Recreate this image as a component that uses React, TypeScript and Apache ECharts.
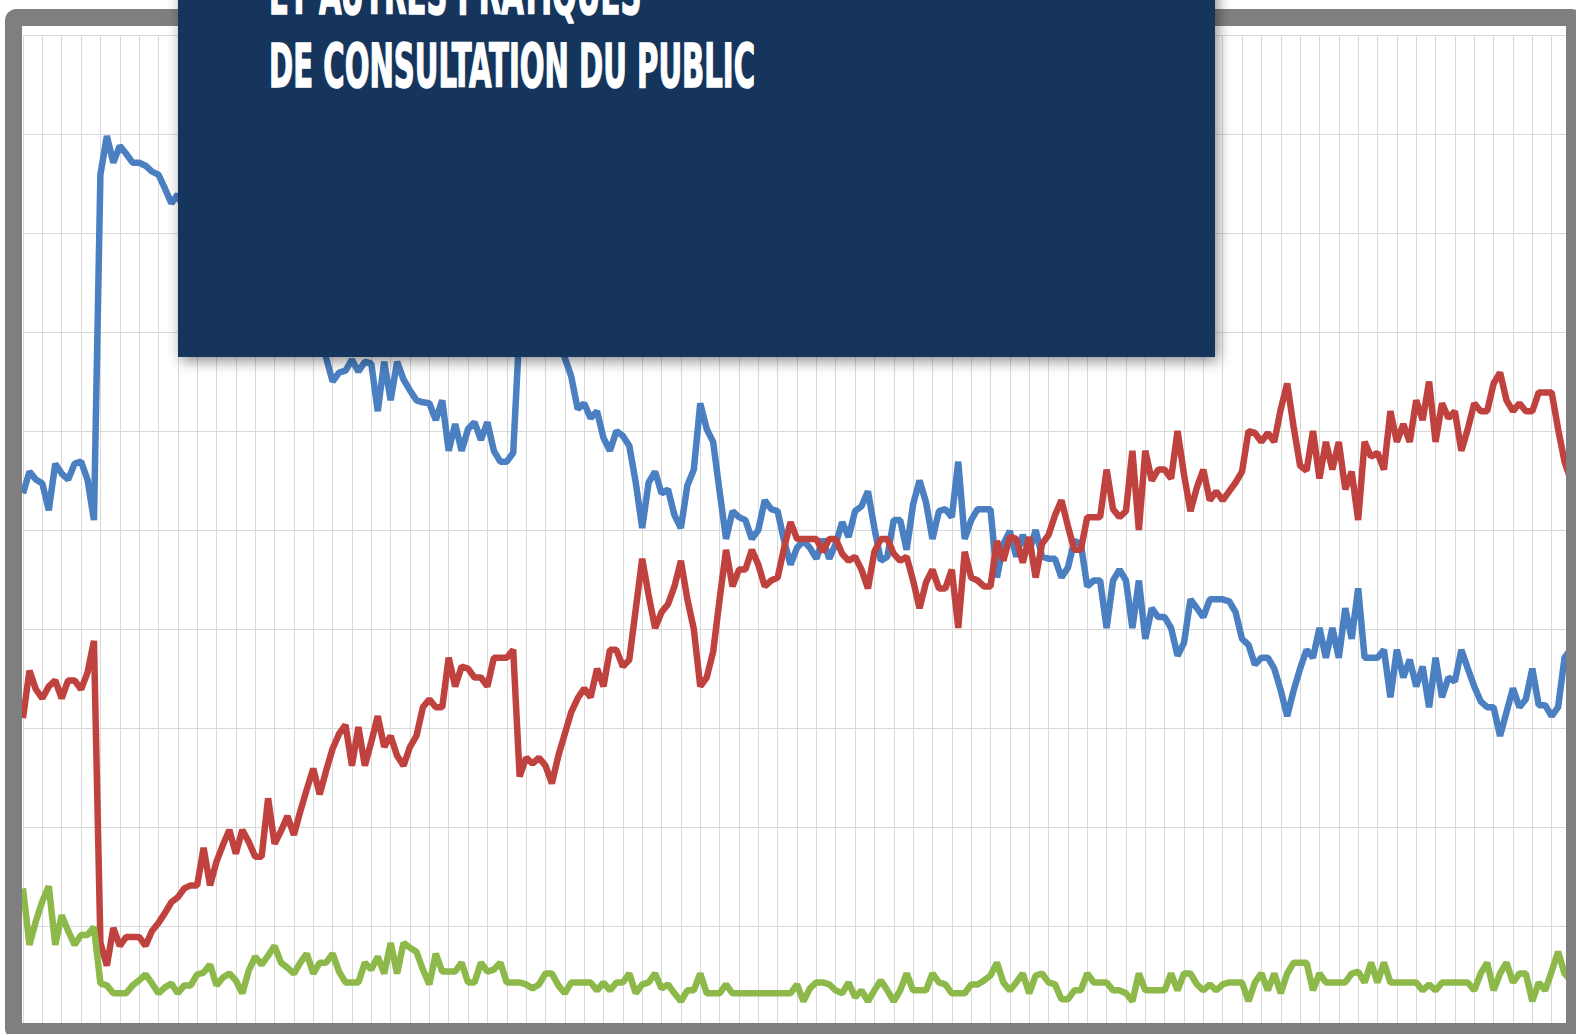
import React, { useEffect, useRef } from "react";
import * as echarts from "echarts";

// Monthly shares (%), index 0..240
const blueValues: number[] = [
  53.7, 55.9, 55.1, 54.7, 52.0, 56.7, 55.7, 55.1, 56.7, 56.9,
  55.1, 51.0, 85.9, 89.8, 87.1, 88.8, 88.0, 87.1, 87.1, 86.8,
  86.2, 85.9, 84.5, 83.0, 83.9, 82.2, 81.9, 80.8, 76.8, 79.8,
  79.5, 77.0, 75.1, 78.2, 77.1, 76.0, 76.1, 76.9, 70.1, 73.7,
  74.1, 73.1, 75.6, 72.1, 69.0, 68.9, 70.4, 67.4, 65.0, 65.9,
  66.1, 67.2, 66.0, 67.0, 66.8, 62.0, 67.0, 63.1, 67.0, 65.2,
  64.1, 63.1, 62.9, 62.8, 61.1, 63.1, 58.0, 60.7, 58.0, 60.2,
  60.9, 59.1, 60.9, 58.0, 56.9, 56.9, 57.8, 70.6, 68.9, 69.9,
  68.9, 68.6, 70.4, 68.8, 67.4, 65.5, 62.2, 62.8, 61.3, 62.0,
  59.3, 58.0, 60.0, 59.5, 58.5, 54.8, 50.2, 54.8, 55.9, 53.7,
  54.1, 51.5, 50.2, 54.5, 56.1, 62.8, 60.2, 58.9, 53.9, 49.1,
  51.9, 51.3, 51.0, 49.1, 50.0, 53.0, 52.1, 51.9, 48.9, 46.5,
  48.2, 48.9, 48.2, 47.1, 49.1, 47.1, 48.6, 50.8, 49.3, 51.9,
  52.4, 53.9, 50.2, 46.9, 47.3, 51.0, 51.0, 48.0, 52.6, 55.0,
  52.8, 49.1, 51.9, 52.1, 51.3, 56.9, 49.1, 51.0, 52.1, 52.1,
  52.1, 45.2, 48.6, 49.9, 47.3, 49.5, 47.8, 50.0, 47.3, 47.1,
  47.1, 45.2, 46.2, 48.9, 48.6, 44.3, 44.9, 44.9, 40.1, 44.9,
  46.0, 44.9, 40.1, 44.9, 39.0, 42.1, 41.2, 41.2, 40.1, 37.3,
  38.6, 43.0, 42.1, 41.2, 43.0, 43.0, 43.0, 42.8, 41.7, 39.0,
  38.4, 36.4, 37.1, 37.1, 36.0, 33.8, 31.2, 33.8, 36.0, 37.9,
  37.1, 40.1, 37.1, 40.1, 37.1, 42.1, 39.0, 44.1, 37.1, 37.1,
  37.1, 37.9, 33.1, 37.9, 35.1, 36.9, 34.2, 36.2, 32.1, 37.1,
  33.1, 35.1, 34.7, 37.9, 36.0, 34.2, 32.7, 32.1, 32.1, 29.2,
  31.6, 34.0, 32.1, 32.9, 36.0, 32.3, 32.3, 31.2, 32.1, 37.1,
  38.0,
];

const redValues: number[] = [
  31.0, 35.8, 33.9, 33.0, 34.2, 34.8, 33.0, 34.8, 34.8, 33.9,
  35.6, 38.8, 8.3, 6.0, 9.8, 8.0, 8.9, 8.9, 8.9, 8.0,
  9.5, 10.3, 11.3, 12.4, 12.9, 13.8, 14.1, 14.1, 17.9, 14.1,
  16.5, 18.2, 19.7, 17.3, 19.7, 18.5, 17.0, 17.0, 22.9, 18.3,
  19.6, 21.1, 19.2, 21.6, 23.8, 25.9, 23.3, 25.7, 27.9, 29.4,
  30.3, 26.2, 30.1, 26.2, 28.6, 31.2, 28.1, 29.2, 27.2, 26.2,
  28.1, 29.2, 32.1, 32.9, 32.1, 32.1, 37.1, 34.2, 36.2, 36.0,
  35.1, 35.1, 34.2, 37.1, 37.1, 37.1, 37.9, 25.1, 27.0, 26.4,
  27.0, 26.2, 24.4, 27.2, 29.4, 31.6, 33.0, 34.0, 33.1, 36.0,
  34.2, 37.9, 37.9, 36.2, 36.9, 42.0, 47.1, 43.4, 40.1, 41.7,
  42.5, 44.3, 46.9, 43.0, 40.0, 34.2, 35.1, 37.7, 43.0, 48.0,
  44.3, 46.0, 46.0, 48.0, 46.5, 44.3, 44.9, 45.2, 48.2, 50.8,
  49.1, 49.1, 49.1, 49.1, 47.8, 49.1, 49.1, 47.6, 46.9, 47.3,
  46.0, 44.1, 47.8, 49.1, 49.1, 47.6, 46.9, 47.3, 44.9, 42.1,
  44.7, 46.0, 44.1, 44.1, 46.0, 40.1, 47.8, 45.2, 44.9, 44.3,
  44.3, 48.9, 46.9, 49.3, 49.1, 46.7, 49.3, 45.2, 48.6, 49.5,
  51.5, 53.0, 50.4, 48.0, 48.0, 51.3, 51.3, 51.3, 56.1, 52.1,
  51.3, 51.9, 58.0, 50.0, 58.0, 55.0, 56.1, 56.1, 55.2, 60.0,
  55.6, 51.9, 54.3, 56.1, 53.0, 53.9, 53.0, 53.9, 54.8, 55.9,
  60.0, 59.8, 58.9, 59.8, 58.9, 62.2, 64.8, 60.4, 56.5, 56.0,
  60.0, 55.2, 58.9, 56.1, 58.9, 54.1, 55.9, 51.0, 58.9, 57.4,
  57.8, 56.1, 62.0, 58.9, 60.7, 58.9, 63.1, 61.1, 65.0, 58.9,
  62.8, 61.3, 62.0, 58.0, 60.2, 62.8, 62.0, 62.0, 64.8, 65.9,
  63.1, 62.0, 62.8, 62.0, 62.0, 63.9, 63.9, 63.9, 60.2, 56.9,
  55.0,
];

const greenValues: number[] = [
  13.8, 8.1, 10.5, 12.5, 14.0, 8.1, 11.1, 9.5, 8.1, 9.1,
  9.1, 9.9, 4.2, 4.0, 3.2, 3.2, 3.2, 4.0, 4.5, 5.1,
  4.2, 3.2, 3.8, 4.2, 3.2, 4.0, 4.0, 5.1, 5.3, 6.1,
  4.0, 4.8, 5.2, 4.5, 3.2, 5.5, 6.9, 6.1, 7.0, 8.0,
  6.3, 5.8, 5.2, 6.3, 7.2, 5.2, 6.3, 6.3, 7.2, 5.4,
  4.3, 4.3, 4.3, 6.3, 5.6, 6.9, 5.2, 8.3, 5.2, 8.3,
  7.8, 7.4, 5.6, 4.1, 7.2, 5.4, 5.4, 5.4, 6.3, 4.3,
  4.3, 6.3, 5.4, 5.6, 6.3, 4.3, 4.3, 4.3, 4.1, 3.7,
  4.1, 5.2, 5.2, 4.0, 3.2, 4.3, 4.3, 4.3, 4.3, 3.5,
  4.3, 3.5, 4.3, 4.3, 5.2, 3.2, 4.1, 4.3, 5.2, 3.7,
  4.1, 3.2, 2.4, 3.5, 3.5, 5.2, 3.2, 3.2, 3.2, 4.1,
  3.2, 3.2, 3.2, 3.2, 3.2, 3.2, 3.2, 3.2, 3.2, 3.2,
  4.1, 2.4, 3.7, 4.3, 4.3, 4.1, 3.5, 3.2, 4.3, 2.8,
  3.5, 2.4, 3.5, 4.5, 3.5, 2.4, 3.5, 5.2, 3.5, 3.5,
  3.5, 5.2, 4.3, 4.1, 3.2, 3.2, 3.2, 4.1, 4.1, 4.5,
  5.0, 6.3, 4.3, 3.5, 4.3, 5.2, 3.2, 5.0, 5.2, 4.3,
  4.1, 2.6, 2.6, 3.5, 3.5, 5.2, 4.3, 4.3, 4.3, 3.5,
  3.5, 3.2, 2.4, 5.2, 3.5, 3.5, 3.5, 3.5, 5.2, 3.5,
  5.2, 5.2, 4.1, 3.5, 4.1, 3.5, 4.1, 4.3, 4.3, 4.3,
  2.4, 4.3, 5.2, 3.5, 5.2, 3.2, 5.2, 6.3, 6.3, 6.3,
  3.5, 5.2, 4.3, 4.3, 4.3, 4.3, 5.2, 5.4, 4.3, 6.3,
  4.3, 6.3, 4.3, 4.3, 4.3, 4.3, 4.3, 3.5, 4.1, 3.5,
  4.3, 4.3, 4.3, 4.3, 4.3, 3.5, 5.2, 6.3, 3.5, 5.2,
  6.3, 4.3, 5.2, 5.2, 2.4, 4.3, 3.5, 5.4, 7.4, 5.2,
  4.5,
];

const titleLines: string[] = ["ET AUTRES PRATIQUES", "DE CONSULTATION DU PUBLIC"];

const toPairs = (arr: number[]) => arr.map((v, i) => [i, v]);

export default function App() {
  const ref = useRef<HTMLDivElement>(null);

  useEffect(() => {
    if (!ref.current) return;
    const chart = echarts.init(ref.current, null, { renderer: "svg" });
    const gridColor = "#d9d9d9";
    const lineSeries = (name: string, data: number[], color: string) => ({
      name,
      type: "line",
      data: toPairs(data),
      showSymbol: false,
      symbol: "none",
      lineStyle: { color, width: 6.5 },
      itemStyle: { color },
      silent: true,
    });
    const titleText = (text: string, y: number) => ({
      type: "text",
      z: 120,
      silent: true,
      x: 269,
      y,
      scaleX: 0.54,
      scaleY: 1,
      style: {
        text,
        fill: "#ffffff",
        fontSize: 60,
        fontWeight: "bold",
        fontFamily: "'DejaVu Sans Condensed', 'DejaVu Sans', sans-serif",
        align: "left",
        verticalAlign: "top",
        stroke: "#ffffff",
        lineWidth: 1.5,
      },
    });
    chart.setOption({
      animation: false,
      backgroundColor: "#ffffff",
      grid: { left: 23, right: 5, top: 35, bottom: 9, containLabel: false },
      xAxis: {
        type: "value",
        min: 0,
        max: 240,
        interval: 3,
        axisLine: { show: false },
        axisTick: { show: false },
        axisLabel: { show: false },
        splitLine: { show: true, lineStyle: { color: gridColor, width: 1 } },
      },
      yAxis: {
        type: "value",
        min: 0,
        max: 100,
        interval: 10,
        axisLine: { show: false },
        axisTick: { show: false },
        axisLabel: { show: false },
        splitLine: { show: true, lineStyle: { color: gridColor, width: 1 } },
      },
      series: [
        lineSeries("Bleu", blueValues, "#4a7fc1"),
        lineSeries("Rouge", redValues, "#c0423f"),
        lineSeries("Vert", greenValues, "#8db84a"),
      ],
      graphic: [
        {
          type: "rect",
          z: 100,
          silent: true,
          shape: { x: 13.5, y: 17.5, width: 1561, height: 1014, r: 3 },
          style: { fill: "none", stroke: "#7f7f7f", lineWidth: 17 },
        },
        {
          type: "rect",
          z: 110,
          silent: true,
          shape: { x: 178, y: -20, width: 1037, height: 377 },
          style: {
            fill: "#19355b",
            shadowBlur: 14,
            shadowColor: "rgba(0,0,0,0.45)",
            shadowOffsetX: 3,
            shadowOffsetY: 4,
          },
        },
        titleText(titleLines[0], -37),
        titleText(titleLines[1], 36),
      ],
    });
    return () => chart.dispose();
  }, []);

  return (
    <div
      ref={ref}
      style={{ position: "absolute", left: 0, top: 0, width: 1576, height: 1034 }}
    />
  );
}
